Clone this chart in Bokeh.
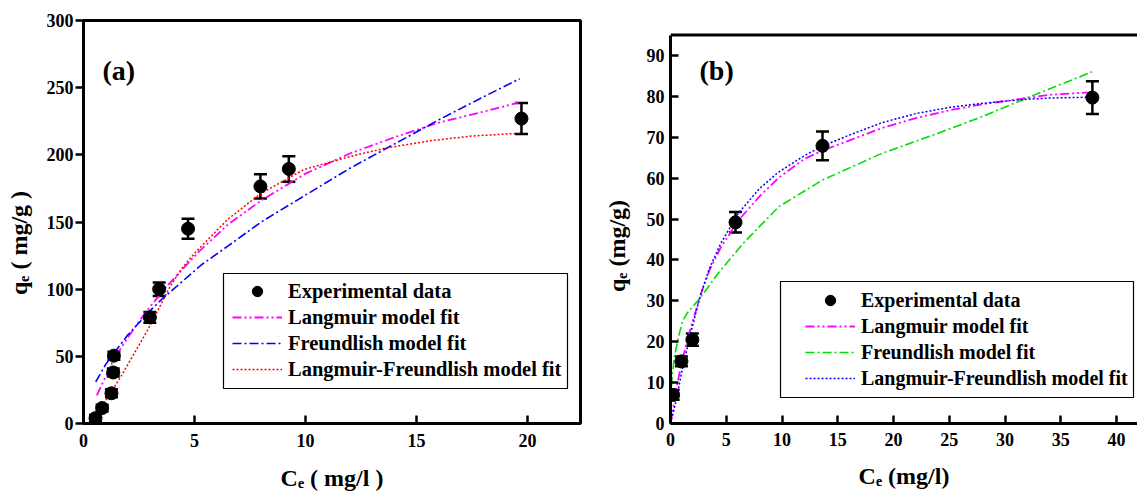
from bokeh.plotting import figure
from bokeh.models import (Range1d, FixedTicker, ColumnDataSource, Whisker, TeeHead,
                          Legend, LegendItem, Label, Span, BoxAnnotation)
from bokeh.layouts import row
from bokeh.embed import file_html
from bokeh.resources import INLINE

FONT = "Liberation Serif"
NB = "\u00a0"

# ---------------- Panel (a) data ----------------
ce_a = [0.54, 0.84, 1.26, 1.34, 1.37, 2.99, 3.41, 4.71, 7.97, 9.25, 19.73]
qe_a = [4, 11.5, 22.5, 38, 50.5, 79, 100, 145, 176.5, 189.5, 227]
err_a = [2.5, 2.5, 3, 3, 3, 4, 5, 7.5, 9, 9.5, 11.5]

lang_a_x = [0.6, 1.0, 1.4, 2.0, 2.5, 3.0, 3.8, 5.2, 6.5, 8.0, 10.0, 12.0, 14.0, 16.0, 18.0, 19.6]
lang_a_y = [21, 35, 49, 64, 76, 87, 103, 128, 148, 166, 186, 201, 213, 224, 232, 239]

freu_a_x = [0.55, 1.0, 1.4, 2.0, 3.0, 3.5, 5.3, 6.5, 8.0, 10.0, 12.0, 14.0, 16.0, 18.0, 19.65]
freu_a_y = [31, 44, 53, 66, 84, 92, 118, 132, 150, 170, 190, 208, 226, 243, 256.6]

lf_a_x = [0.54, 1.0, 1.67, 2.0, 2.87, 3.5, 3.92, 4.5, 5.12, 5.42, 6.5, 7.97, 9.92, 12.18, 13.6, 15.63, 17.5, 19.6]
lf_a_y = [4.7, 17, 34.5, 44, 69, 89, 102.7, 117, 128.8, 133.8, 152, 171, 189, 199.5, 205, 210.5, 214, 216]

xticks_a = [0, 5, 10, 15, 20]
yticks_a = [0, 50, 100, 150, 200, 250, 300]

# ---------------- Panel (b) data ----------------
ce_b = [0.24, 0.98, 1.96, 5.83, 13.63, 37.83]
qe_b = [7.0, 15.2, 20.5, 49.2, 67.9, 79.7]
err_b = [1.2, 1.2, 1.5, 2.5, 3.5, 4.0]

lang_b_x = [0, 0.5, 1.0, 1.8, 2.7, 3.5, 4.5, 6.1, 8.0, 9.7, 12, 13.6, 16, 19, 22, 25, 28, 31.4, 34, 37.7]
lang_b_y = [0, 8.1, 14.9, 23.3, 31.5, 37.5, 43.0, 49.7, 55.6, 60.1, 64.7, 66.7, 69.2, 72.3, 74.7, 76.6, 78.1, 79.4, 80.4, 81.0]

freu_b_x = [0.03, 0.1, 0.33, 0.7, 1.07, 1.5, 2.6, 4.35, 6.5, 9.7, 13.6, 18.9, 24, 27.9, 32.3, 37.8]
freu_b_y = [5, 10, 16, 21, 25, 27, 30.5, 37, 44, 53, 59.5, 66, 71, 75, 80, 86]

lf_b_x = [0, 0.5, 1.0, 1.8, 2.7, 3.5, 4.5, 6.1, 8, 9.7, 12, 13.6, 16, 19, 22, 25, 28, 31.4, 34, 37.7]
lf_b_y = [0, 5.5, 12.5, 22, 31.5, 38, 44, 51.5, 57.5, 61.5, 65.5, 67.8, 70.5, 73.6, 75.8, 77.3, 78.3, 79.2, 79.6, 79.8]

xticks_b = [0, 5, 10, 15, 20, 25, 30, 35, 40]
yticks_b = [0, 10, 20, 30, 40, 50, 60, 70, 80, 90]

legend_labels = ["Experimental data", "Langmuir model fit", "Freundlish model fit",
                 "Langmuir-Freundlish model fit"]

xtitle_a = "C\u2091 ( mg/l )"
ytitle_a = "q\u2091 ( mg/g )" + NB * 7
xtitle_b = "C\u2091 (mg/l)"
ytitle_b = "q\u2091 (mg/g)" + NB * 8


def lab(p, x, y, text, size):
    p.add_layout(Label(x=x, y=y, x_units="screen", y_units="screen", text=text,
                       text_font=FONT, text_font_style="bold", text_font_size=f"{size}px",
                       text_align="left", text_baseline="alphabetic", text_color="black"))


def style(p, xt, yt, y_in, y_out, x_std, y_std, xlabel, ylabel, xl_std, yl_std):
    for ax in (p.xaxis[0], p.yaxis[0]):
        ax.axis_line_width = 3
        ax.axis_line_color = "black"
        ax.major_tick_line_width = 2.5
        ax.major_tick_line_color = "black"
        ax.minor_tick_line_color = None
        ax.major_label_text_font = FONT
        ax.major_label_text_font_style = "bold"
        ax.major_label_text_font_size = "18px"
        ax.major_label_text_color = "black"
        ax.axis_label_text_font = FONT
        ax.axis_label_text_font_style = "bold"
        ax.axis_label_text_font_size = "24px"
        ax.axis_label_text_color = "black"
    p.xaxis[0].axis_label = xlabel
    p.yaxis[0].axis_label = ylabel
    p.xaxis[0].axis_label_standoff = xl_std
    p.yaxis[0].axis_label_standoff = yl_std
    p.xaxis[0].ticker = FixedTicker(ticks=xt)
    p.yaxis[0].ticker = FixedTicker(ticks=yt)
    p.xaxis[0].major_tick_in = 8
    p.xaxis[0].major_tick_out = 0
    p.xaxis[0].major_label_standoff = x_std
    p.yaxis[0].major_tick_in = y_in
    p.yaxis[0].major_tick_out = y_out
    p.yaxis[0].major_label_standoff = y_std
    p.xgrid.visible = False
    p.ygrid.visible = False


def errorbars(p, x, y, e):
    src = ColumnDataSource(dict(x=x, lo=[a - b for a, b in zip(y, e)], hi=[a + b for a, b in zip(y, e)]))
    w = Whisker(base="x", lower="lo", upper="hi", source=src, line_color="black", line_width=2.5,
                upper_head=TeeHead(size=13, line_color="black", line_width=2.5),
                lower_head=TeeHead(size=13, line_color="black", line_width=2.5))
    p.add_layout(w)


def style_legend(lg, fs):
    lg.label_text_font = FONT
    lg.label_text_font_style = "bold"
    lg.label_text_font_size = fs
    lg.label_text_color = "black"
    lg.glyph_width = 50
    lg.glyph_height = 26
    lg.label_height = 26
    lg.spacing = 0
    lg.padding = 6
    lg.margin = 0
    lg.label_standoff = 6
    lg.border_line_alpha = 0
    lg.background_fill_alpha = 0


# ---------------- Figure (a) ----------------
pa = figure(width=600, height=498, output_backend="svg", toolbar_location=None,
            x_range=Range1d(0, 22.39), y_range=Range1d(0, 300),
            min_border_left=83, min_border_right=20, min_border_top=20, min_border_bottom=75,
            background_fill_color="white", border_fill_color="white")
pa.outline_line_color = "black"
pa.outline_line_width = 3
style(pa, xticks_a, yticks_a, y_in=0, y_out=8, x_std=10, y_std=2,
      xlabel=xtitle_a, ylabel=ytitle_a, xl_std=15, yl_std=12)

errorbars(pa, ce_a, qe_a, err_a)
r_la = pa.line(lang_a_x, lang_a_y, line_color="#FF00FF", line_width=1.8, line_dash="9 3 2 3 2 3")
r_fa = pa.line(freu_a_x, freu_a_y, line_color="#0000FF", line_width=1.6, line_dash="9 3 2 3")
r_lfa = pa.line(lf_a_x, lf_a_y, line_color="#FF0000", line_width=1.5, line_dash="2 2")
r_ea = pa.scatter(ce_a, qe_a, size=13, marker="circle", fill_color="black", line_color="black")

pa.add_layout(BoxAnnotation(left=140, right=484, bottom=35, top=150,
                            left_units="screen", right_units="screen",
                            bottom_units="screen", top_units="screen",
                            fill_alpha=0, line_color="black", line_width=1.2, line_alpha=1))
leg_a = Legend(items=[LegendItem(label=legend_labels[0], renderers=[r_ea]),
                      LegendItem(label=legend_labels[1], renderers=[r_la]),
                      LegendItem(label=legend_labels[2], renderers=[r_fa]),
                      LegendItem(label=legend_labels[3], renderers=[r_lfa])],
               location=(143, 35))
style_legend(leg_a, "20.5px")
pa.add_layout(leg_a, "center")
lab(pa, 19, 353, "(a)", 28)

# ---------------- Figure (b) ----------------
# frame shares top/bottom with (a); the drawn box top is at 95
pb = figure(width=537, height=498, output_backend="svg", toolbar_location=None,
            x_range=Range1d(0, 41.875), y_range=Range1d(0, 98.56),
            min_border_left=68, min_border_right=0, min_border_top=20, min_border_bottom=75,
            background_fill_color="white", border_fill_color="white")
pb.outline_line_color = None
style(pb, xticks_b, yticks_b, y_in=8, y_out=0, x_std=9, y_std=6,
      xlabel=xtitle_b, ylabel=ytitle_b, xl_std=14, yl_std=14)
pb.yaxis[0].bounds = (0, 95)
pb.add_layout(Span(location=95, dimension="width", line_color="black", line_width=3))

errorbars(pb, ce_b, qe_b, err_b)
r_lb = pb.line(lang_b_x, lang_b_y, line_color="#FF00FF", line_width=1.8, line_dash="9 3 2 3 2 3")
r_fb = pb.line(freu_b_x, freu_b_y, line_color="#00DD00", line_width=1.6, line_dash="9 3 2 3")
r_lfb = pb.line(lf_b_x, lf_b_y, line_color="#0000FF", line_width=1.5, line_dash="2 2")
r_eb = pb.scatter(ce_b, qe_b, size=13, marker="circle", fill_color="black", line_color="black")

pb.add_layout(BoxAnnotation(left=110, right=463, bottom=26, top=142,
                            left_units="screen", right_units="screen",
                            bottom_units="screen", top_units="screen",
                            fill_alpha=0, line_color="black", line_width=1.2, line_alpha=1))
leg_b = Legend(items=[LegendItem(label=legend_labels[0], renderers=[r_eb]),
                      LegendItem(label=legend_labels[1], renderers=[r_lb]),
                      LegendItem(label=legend_labels[2], renderers=[r_fb]),
                      LegendItem(label=legend_labels[3], renderers=[r_lfb])],
               location=(129, 26))
style_legend(leg_b, "20px")
pb.add_layout(leg_b, "center")
lab(pb, 29, 353, "(b)", 28)

layout = row(pa, pb)
open("out.html", "w").write(file_html(layout, INLINE))
